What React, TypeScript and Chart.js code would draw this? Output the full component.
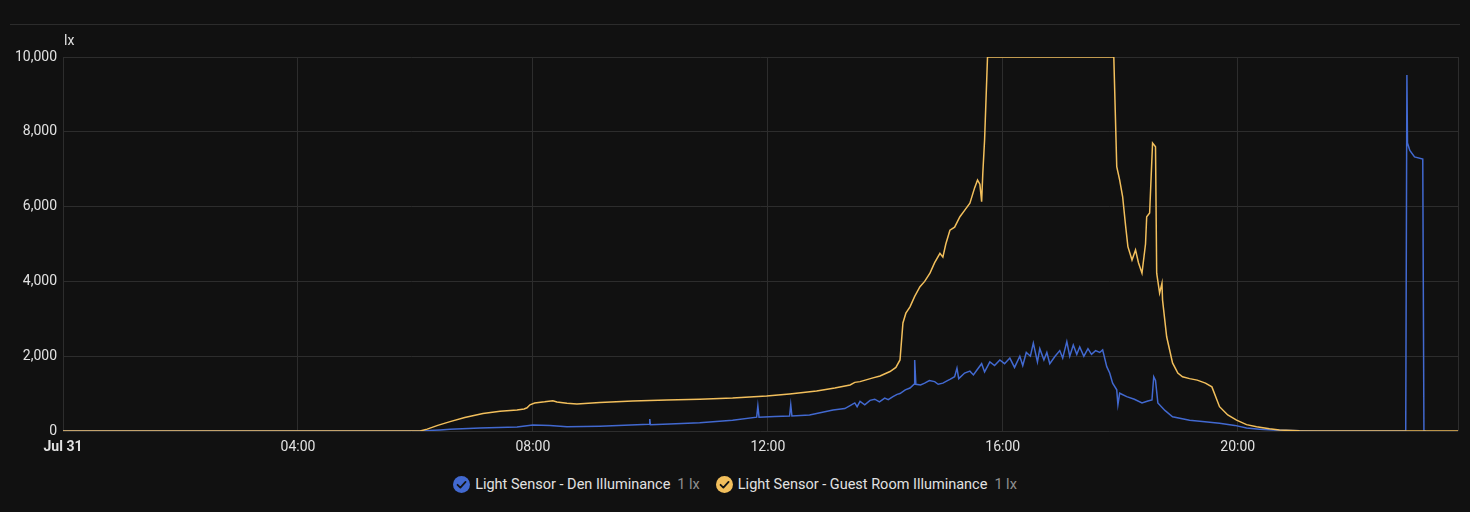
import React, { useEffect, useRef } from "react";
import { Chart, registerables } from "chart.js";

Chart.register(...registerables);

// ---- data (hours since Jul 31 00:00, illuminance in lx) ----
const xTickHours = [0, 4, 8, 12, 16, 20];
const xTickLabels = ["Jul 31", "04:00", "08:00", "12:00", "16:00", "20:00"];
const yTickValues = [0, 2000, 4000, 6000, 8000, 10000];

const guestHours = [
  0, 5.99, 6.08, 6.2, 6.38, 6.59, 6.84, 7.15, 7.44, 7.73, 7.85, 7.9, 7.95, 8.03, 8.2, 8.34, 8.41, 8.58,
  8.75, 9.14, 9.7, 10.28, 10.84, 11.4, 11.98, 12.37, 12.83, 13.14, 13.4, 13.48, 13.57, 13.79, 13.91,
  14.08, 14.18, 14.25, 14.3, 14.35, 14.42, 14.5, 14.59, 14.67, 14.76, 14.84, 14.93, 14.98, 15.03, 15.1,
  15.18, 15.27, 15.35, 15.44, 15.52, 15.57, 15.61, 15.64, 15.66, 15.69, 15.74, 17.89, 17.94, 17.99,
  18.04, 18.09, 18.13, 18.2, 18.26, 18.31, 18.37, 18.43, 18.45, 18.5, 18.55, 18.6, 18.62, 18.67, 18.71,
  18.72, 18.79, 18.89, 18.98, 19.06, 19.18, 19.31, 19.45, 19.56, 19.69, 19.83, 19.98, 20.15, 20.32,
  20.54, 20.71, 21.05, 21.4, 23.75,
];
const guestLux = [
  0, 0, 0, 50, 150, 250, 360, 470, 530, 560, 590, 620, 700, 750, 780, 810, 775, 740,
  720, 760, 800, 830, 850, 880, 935, 990, 1070, 1150, 1230, 1300, 1320, 1420, 1470,
  1590, 1700, 1900, 2890, 3150, 3320, 3600, 3860, 4000, 4220, 4500, 4750, 4650, 5000, 5370,
  5450, 5730, 5900, 6090, 6500, 6710, 6600, 6130, 6900, 7780, 10000, 10000, 7070, 6710,
  6270, 5500, 4930, 4570, 4840, 4500, 4220, 5000, 5730, 5830, 7700, 7600, 4220, 3690, 3950,
  3500, 2520, 1820, 1550, 1450, 1400, 1360, 1280, 1180, 650, 430, 290, 170, 115,
  60, 25, 5, 0, 0,
];

const denHours = [
  0, 6.08, 6.42, 6.59, 7.1, 7.73, 8.0, 8.29, 8.58, 9.14, 9.98, 9.99, 10.0, 10.33, 10.84, 11.4, 11.81,
  11.83, 11.85, 12.12, 12.37, 12.39, 12.41, 12.71, 13.11, 13.31, 13.4, 13.48, 13.52, 13.57, 13.65, 13.74,
  13.82, 13.9, 13.99, 14.05, 14.13, 14.2, 14.25, 14.34, 14.42, 14.49, 14.5, 14.52, 14.6, 14.67, 14.75,
  14.84, 14.9, 14.98, 15.05, 15.1, 15.18, 15.22, 15.25, 15.35, 15.44, 15.5, 15.56, 15.64, 15.69, 15.78,
  15.86, 15.95, 16.03, 16.12, 16.2, 16.29, 16.34, 16.4, 16.47, 16.52, 16.59, 16.63, 16.7, 16.75, 16.8,
  16.89, 16.97, 17.02, 17.09, 17.14, 17.2, 17.26, 17.31, 17.38, 17.45, 17.51, 17.58, 17.65, 17.7,
  17.77, 17.82, 17.87, 17.94, 17.96, 17.99, 18.11, 18.24, 18.37, 18.47, 18.54, 18.57, 18.6, 18.64,
  18.76, 18.89, 19.18, 19.44, 19.69, 19.95, 20.15, 20.37, 20.6, 21.06, 21.4, 22.86, 22.88, 22.89,
  22.93, 23.01, 23.15, 23.17, 23.2,
];
const denLux = [
  0, 0, 30, 50, 80, 110, 160, 150, 115, 130, 180, 320, 170, 190, 220, 290, 370,
  670, 370, 390, 400, 700, 400, 430, 560, 600, 680, 750, 650, 790, 700, 820,
  850, 780, 880, 840, 920, 980, 1000, 1100, 1150, 1250, 1900, 1250, 1230, 1280, 1350,
  1320, 1250, 1280, 1340, 1380, 1450, 1680, 1400, 1550, 1600, 1500, 1630, 1800, 1580, 1850,
  1750, 1900, 1800, 1950, 1700, 2000, 1750, 2100, 2000, 2350, 1850, 2200, 1900, 2100, 1800,
  2000, 2150, 1950, 2390, 2000, 2300, 2050, 2250, 2000, 2200, 2050, 2150, 2100, 2170,
  1720, 1550, 1280, 1100, 700, 1010, 920, 850, 750, 800, 830, 1450, 1350, 750,
  550, 380, 290, 250, 210, 150, 80, 50, 25, 5, 0, 0, 9520, 7700,
  7500, 7330, 7270, 0, 0,
];

const denLabel = "Light Sensor - Den Illuminance";
const guestLabel = "Light Sensor - Guest Room Illuminance";
const denColor = "#4269d0";
const guestColor = "#f2bf5c";
const xMax = 23.75;

const FONT = "Roboto, 'Noto Sans', sans-serif";
const TEXT = "#e1e1e1";
const GRID = "#2d2d2d";

function LegendItem({ color, label }: { color: string; label: string }) {
  return (
    <div style={{ display: "flex", alignItems: "center", marginRight: 16 }}>
      <svg width="17" height="17" viewBox="0 0 18 18" style={{ marginRight: 5 }}>
        <circle cx="9" cy="9" r="9" fill={color} />
        <path d="M4.8 9.3 L7.8 12.2 L13.3 6.2" stroke="#141414" strokeWidth="1.9" fill="none" strokeLinecap="round" strokeLinejoin="round" />
      </svg>
      <span style={{ color: TEXT }}>{label}</span>
      <span style={{ color: "#8f8f8f", marginLeft: 7 }}>1 lx</span>
    </div>
  );
}

export default function App() {
  const canvasRef = useRef<HTMLCanvasElement | null>(null);

  useEffect(() => {
    document.body.style.margin = "0";
    document.body.style.background = "#111111";
    const canvas = canvasRef.current;
    if (!canvas) return;

    const unitPlugin = {
      id: "unitLabel",
      afterDraw(chart: any) {
        const { ctx, chartArea } = chart;
        ctx.save();
        ctx.font = `14px ${FONT}`;
        ctx.fillStyle = TEXT;
        ctx.textBaseline = "middle";
        ctx.textAlign = "left";
        ctx.fillText("lx", chartArea.left + 1, chartArea.top - 16);
        ctx.restore();
      },
    };

    const chart = new Chart(canvas, {
      type: "line",
      data: {
        datasets: [
          {
            label: denLabel,
            data: denHours.map((h, i) => ({ x: h, y: denLux[i] })),
            borderColor: denColor,
            backgroundColor: denColor,
            borderWidth: 1.5,
            pointRadius: 0,
            tension: 0,
            order: 1,
          },
          {
            label: guestLabel,
            data: guestHours.map((h, i) => ({ x: h, y: guestLux[i] })),
            borderColor: guestColor,
            backgroundColor: guestColor,
            borderWidth: 1.5,
            pointRadius: 0,
            tension: 0,
            order: 0,
          },
        ],
      },
      options: {
        animation: false,
        responsive: false,
        maintainAspectRatio: false,
        layout: { padding: { top: 32, right: 12, left: 0, bottom: 0 } },
        plugins: { legend: { display: false }, tooltip: { enabled: false } },
        scales: {
          x: {
            type: "linear",
            min: 0,
            max: xMax,
            afterFit: (axis: any) => {
              axis.height = 34;
            },
            afterBuildTicks: (axis: any) => {
              axis.ticks = [...xTickHours.map((v) => ({ value: v })), { value: xMax }];
            },
            grid: { color: GRID, drawTicks: false },
            border: { display: false },
            ticks: {
              padding: 8,
              color: TEXT,
              maxRotation: 0,
              autoSkip: false,
              font: (c: any) => ({ family: FONT, size: 14, weight: c.index === 0 ? "bold" : "normal" }),
              callback: (v: any) => {
                const i = xTickHours.indexOf(Number(v));
                return i >= 0 ? xTickLabels[i] : "";
              },
            },
          },
          y: {
            min: 0,
            max: 10000,
            afterFit: (axis: any) => {
              axis.width = 63;
            },
            afterBuildTicks: (axis: any) => {
              axis.ticks = yTickValues.map((v) => ({ value: v }));
            },
            grid: { color: GRID, drawTicks: false },
            border: { display: false },
            ticks: {
              padding: 6,
              color: TEXT,
              font: { family: FONT, size: 14 },
              callback: (v: any) => Number(v).toLocaleString("en-US"),
            },
          },
        },
      },
      plugins: [unitPlugin],
    });
    return () => chart.destroy();
  }, []);

  return (
    <div style={{ position: "relative", width: 1470, height: 512, background: "#111111", fontFamily: FONT, overflow: "hidden" }}>
      <div style={{ position: "absolute", top: 24, left: 10, width: 1450, height: 1, background: "#2c2c2c" }} />
      <div style={{ position: "absolute", top: 25, left: 0, width: 1470, height: 440 }}>
        <canvas ref={canvasRef} width={1470} height={440} style={{ width: 1470, height: 440, display: "block" }} />
      </div>
      <div
        style={{
          position: "absolute",
          top: 475,
          left: 0,
          width: 1470,
          height: 18,
          display: "flex",
          justifyContent: "center",
          alignItems: "center",
          fontSize: 14.5,
          paddingLeft: 16,
          boxSizing: "border-box",
        }}
      >
        <LegendItem color={denColor} label={denLabel} />
        <LegendItem color={guestColor} label={guestLabel} />
      </div>
    </div>
  );
}
